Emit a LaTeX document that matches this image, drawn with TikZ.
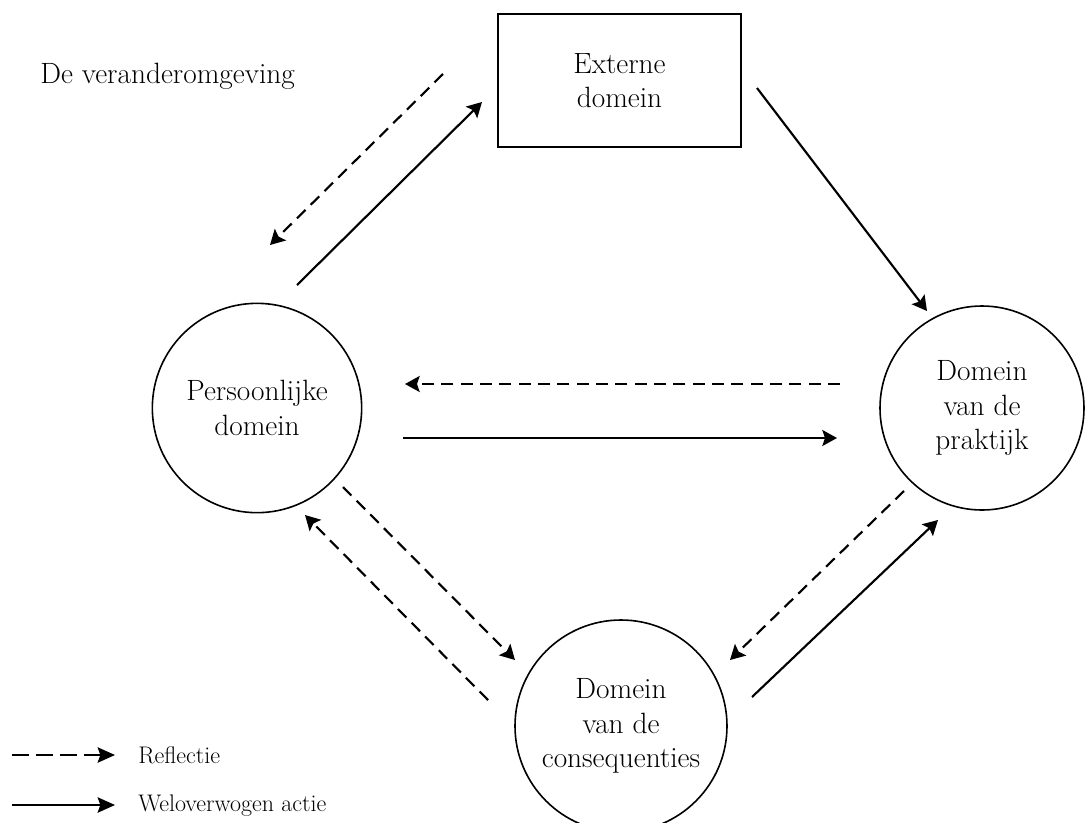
\documentclass[tikz,border=0pt]{standalone}
\usepackage{fontspec}
\usetikzlibrary{arrows.meta}
\begin{document}
\begin{tikzpicture}[x=0.75pt,y=-0.75pt,
  every node/.style={font=\fontsize{22}{26}\selectfont, inner sep=0pt},
  domcircle/.style={circle, draw, line width=1.2pt, minimum size=157pt, align=center},
  extbox/.style={rectangle, draw, line width=1.2pt, minimum width=182pt, minimum height=100pt, align=center},
  tip/.style={-{Stealth[length=11pt,width=12pt,inset=2pt]}},
  action/.style={tip, line width=1.6pt},
  reflect/.style={tip, line width=1.6pt, dash pattern=on 9pt off 5.5pt},
  legtip/.style={-{Stealth[length=13pt,width=11.5pt,inset=2pt]}, line width=1.6pt},
  legtext/.style={anchor=base west, font=\fontsize{18}{22}\selectfont}]
  \useasboundingbox (0,0) rectangle (1086,822);

  % domains
  \node[extbox] (ext) at (619.5,80.5) {Externe\\domein};
  \node[domcircle] (pers) at (257,408) {Persoonlijke\\domein};
  \node[domcircle, minimum size=153pt] (prak) at (982,408) {Domein\\van de\\praktijk};
  \node[domcircle, minimum size=159pt] (cons) at (621,726) {Domein\\van de\\consequenties};

  \node[anchor=base west] (title) at (40,83) {De veranderomgeving};

  % arrow end points
  \coordinate (a1) at (443,74);  \coordinate (a2) at (270,245);
  \coordinate (b1) at (297,285); \coordinate (b2) at (482,102);
  \coordinate (c1) at (757,88);  \coordinate (c2) at (927,311);
  \coordinate (d1) at (840,384); \coordinate (d2) at (405,384);
  \coordinate (e1) at (403,438); \coordinate (e2) at (837,438);
  \coordinate (f1) at (343,487); \coordinate (f2) at (515,660);
  \coordinate (g1) at (488,700); \coordinate (g2) at (305,515);
  \coordinate (h1) at (904,491); \coordinate (h2) at (730,660);
  \coordinate (k1) at (752,697); \coordinate (k2) at (938,520);

  \draw[reflect] (a1) -- (a2);
  \draw[action]  (b1) -- (b2);
  \draw[action]  (c1) -- (c2);
  \draw[reflect] (d1) -- (d2);
  \draw[action]  (e1) -- (e2);
  \draw[reflect] (f1) -- (f2);
  \draw[reflect] (g1) -- (g2);
  \draw[reflect] (h1) -- (h2);
  \draw[action]  (k1) -- (k2);

  % legend
  \coordinate (l1) at (12,755);  \coordinate (l2) at (115,755);
  \coordinate (m1) at (12,805);  \coordinate (m2) at (115,805);
  \draw[legtip, dash pattern=on 12.5pt off 5.5pt] (l1) -- (l2);
  \draw[legtip]  (m1) -- (m2);
  \node[legtext] (lref) at (138,763) {Reflectie};
  \node[legtext] (lact) at (138,811) {Weloverwogen actie};
\end{tikzpicture}
\end{document}
